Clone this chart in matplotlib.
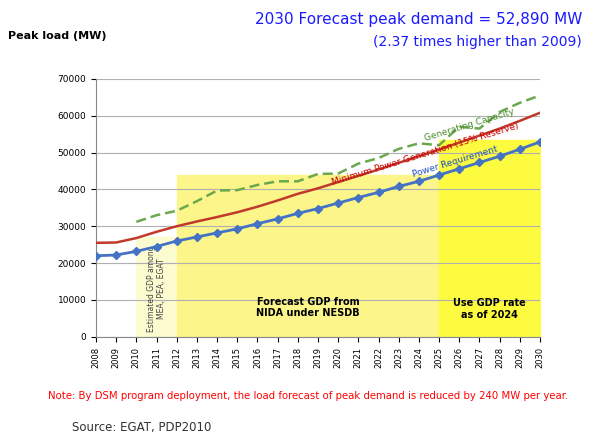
import matplotlib.pyplot as plt

years = list(range(2008, 2031))
power_req = [22000, 22200, 23200, 24500, 26000, 27100, 28200, 29300, 30700, 32000, 33500, 34800,
             36300, 37800, 39200, 40800, 42200, 43900, 45600, 47300, 49000, 50900, 52890]
min_gen = [25500, 25600, 26800, 28500, 30000, 31300, 32500, 33800, 35300, 37000, 38800, 40300,
           42000, 43700, 45400, 47200, 49000, 50800, 52700, 54600, 56500, 58600, 60800]
cap_years = list(range(2010, 2031))
gen_cap = [31200, 33000, 34200, 36800, 39700, 39800, 41200, 42200, 42200, 44200, 44300, 47000,
           48500, 51000, 52500, 52000, 57000, 56500, 61000, 63500, 65500]

fig = plt.figure(figsize=(6, 4.38), dpi=100)
ax = fig.add_axes([0.16, 0.231, 0.74, 0.589])

ax.fill_between([2010, 2012], 0, 27000, color="#fdfbd0", zorder=0)
ax.fill_between([2012, 2025], 0, 44000, color="#fbf58a", zorder=0)
ax.fill_between([2025, 2030], 0, 53500, color="#fdfb40", zorder=0)

ax.plot(cap_years, gen_cap, color="#6aa84f", lw=1.8, ls=(0, (4, 2)), zorder=2)
ax.plot(years, min_gen, color="#c0392b", lw=1.8, zorder=3)
ax.plot(years, power_req, color="#4472c4", lw=2, marker="D", ms=4, zorder=4)

ax.set_xlim(2008, 2030)
ax.set_ylim(0, 70000)
ax.set_xticks(years)
ax.set_xticklabels([str(y) for y in years], rotation=90, fontsize=6)
ax.set_yticks(range(0, 70001, 10000))
ax.tick_params(axis="y", labelsize=6.5)
ax.grid(axis="y", color="#b0b0b0", lw=0.8)
ax.set_axisbelow(True)
for s in ["top", "right"]:
    ax.spines[s].set_visible(False)
ax.spines["left"].set_color("#888888")
ax.spines["bottom"].set_color("#888888")

ax.text(2011, 13000, "Estimated GDP among\nMEA, PEA, EGAT", rotation=90, fontsize=5.5,
        ha="center", va="center", color="#444444")
ax.text(2018.5, 8000, "Forecast GDP from\nNIDA under NESDB", fontsize=7, fontweight="bold",
        ha="center", va="center")
ax.text(2027.5, 7500, "Use GDP rate\nas of 2024", fontsize=7, fontweight="bold",
        ha="center", va="center")
ax.text(2026.5, 57500, "Generating Capacity", fontsize=6.5, color="#4a8a2a", rotation=17,
        ha="center", va="center")
ax.text(2024.3, 49500, "Minimum Power Generation (15% Reserve)", fontsize=6.5,
        color="#cc0000", rotation=17, ha="center", va="center")
ax.text(2025.8, 47500, "Power Requirement", fontsize=6.5, color="#1f4fbf", rotation=17,
        ha="center", va="center")

fig.text(0.013, 0.91, "Peak load (MW)", fontsize=8, fontweight="bold")
fig.text(0.97, 0.945, "2030 Forecast peak demand = 52,890 MW", fontsize=11,
         color="#1a1aff", ha="right")
fig.text(0.97, 0.895, "(2.37 times higher than 2009)", fontsize=10, color="#1a1aff", ha="right")
fig.text(0.08, 0.09, "Note", fontsize=7.5, color="red", underline=True) if False else None
fig.text(0.08, 0.09, "Note: By DSM program deployment, the load forecast of peak demand is reduced by 240 MW per year.",
         fontsize=7.3, color="red")
fig.text(0.12, 0.015, "Source: EGAT, PDP2010", fontsize=8.5, color="#333333")

fig.savefig("out.png", dpi=100)
